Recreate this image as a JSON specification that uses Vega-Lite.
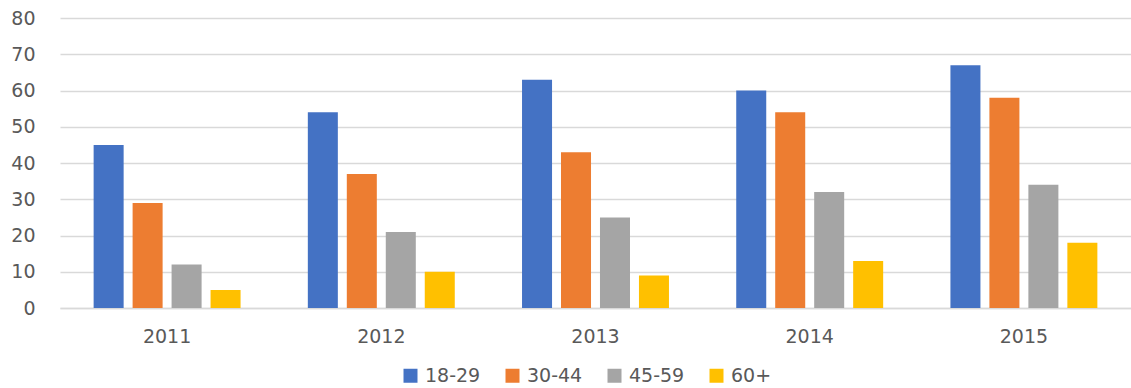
{
  "$schema": "https://vega.github.io/schema/vega-lite/v6.json",
  "autosize": {"type": "none"},
  "padding": {"left": 60, "top": 18, "right": 0, "bottom": 80},
  "width": 1071,
  "height": 290,
  "background": "white",
  "data": {
    "values": [
      {"year": "2011", "age": "18-29", "value": 45},
      {"year": "2011", "age": "30-44", "value": 29},
      {"year": "2011", "age": "45-59", "value": 12},
      {"year": "2011", "age": "60+", "value": 5},
      {"year": "2012", "age": "18-29", "value": 54},
      {"year": "2012", "age": "30-44", "value": 37},
      {"year": "2012", "age": "45-59", "value": 21},
      {"year": "2012", "age": "60+", "value": 10},
      {"year": "2013", "age": "18-29", "value": 63},
      {"year": "2013", "age": "30-44", "value": 43},
      {"year": "2013", "age": "45-59", "value": 25},
      {"year": "2013", "age": "60+", "value": 9},
      {"year": "2014", "age": "18-29", "value": 60},
      {"year": "2014", "age": "30-44", "value": 54},
      {"year": "2014", "age": "45-59", "value": 32},
      {"year": "2014", "age": "60+", "value": 13},
      {"year": "2015", "age": "18-29", "value": 67},
      {"year": "2015", "age": "30-44", "value": 58},
      {"year": "2015", "age": "45-59", "value": 34},
      {"year": "2015", "age": "60+", "value": 18}
    ]
  },
  "mark": {"type": "bar"},
  "encoding": {
    "x": {
      "field": "year",
      "type": "nominal",
      "scale": {"paddingInner": 0.314, "paddingOuter": 0.157},
      "axis": {
        "title": null,
        "labelAngle": 0,
        "ticks": false,
        "tickSize": 0,
        "labelPadding": 19,
        "labelBaseline": "top",
        "labelFontSize": 19,
        "labelFont": "DejaVu Sans",
        "labelColor": "#595959",
        "domainColor": "#d9d9d9",
        "domainWidth": 1.5
      }
    },
    "xOffset": {
      "field": "age",
      "type": "nominal",
      "scale": {"paddingInner": 0.23, "paddingOuter": 0}
    },
    "y": {
      "field": "value",
      "type": "quantitative",
      "scale": {"domain": [0, 80], "nice": false},
      "axis": {
        "title": null,
        "values": [0, 10, 20, 30, 40, 50, 60, 70, 80],
        "domain": false,
        "ticks": false,
        "tickSize": 0,
        "labelPadding": 25,
        "labelFontSize": 19,
        "labelFont": "DejaVu Sans",
        "labelColor": "#595959",
        "gridColor": "#d9d9d9",
        "gridWidth": 1.5
      }
    },
    "color": {
      "field": "age",
      "type": "nominal",
      "scale": {
        "domain": ["18-29", "30-44", "45-59", "60+"],
        "range": ["#4472C4", "#ED7D31", "#A5A5A5", "#FFC000"]
      },
      "legend": {
        "title": null,
        "orient": "none",
        "legendX": 341,
        "legendY": 348,
        "direction": "horizontal",
        "symbolType": "square",
        "symbolSize": 196,
        "symbolStrokeWidth": 0,
        "labelFontSize": 19,
        "labelFont": "DejaVu Sans",
        "labelColor": "#595959",
        "labelOffset": 5,
        "columnPadding": 22
      }
    }
  },
  "config": {
    "view": {"stroke": null}
  }
}
